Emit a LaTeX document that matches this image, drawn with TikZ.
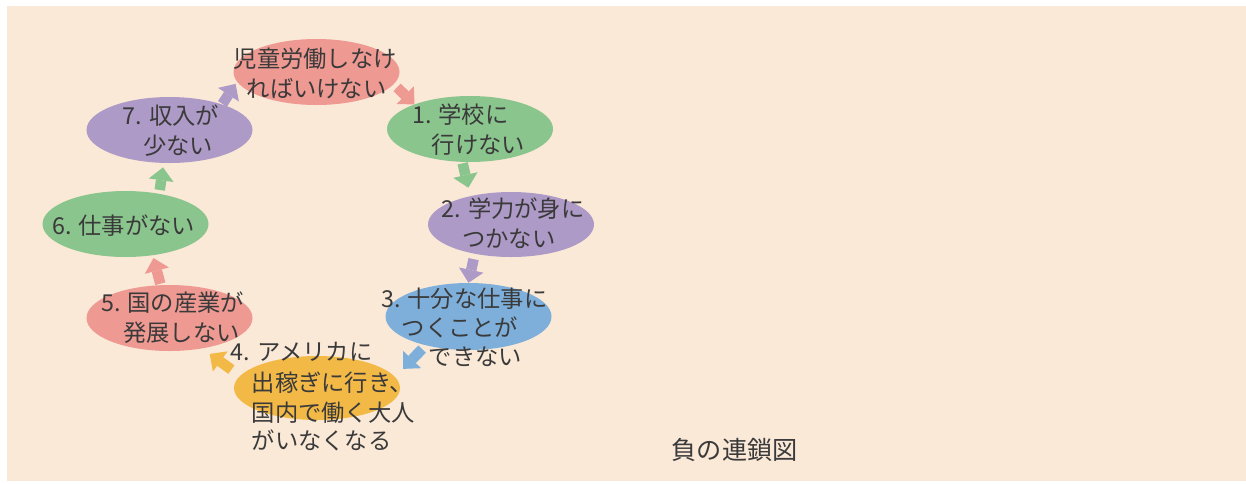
\documentclass[tikz,border=0pt]{standalone}
\usepackage{fontspec}
\setmainfont{Noto Sans CJK JP}
\usetikzlibrary{shapes.geometric,arrows.meta}
\definecolor{bg}{HTML}{FBE9D8}
\definecolor{cred}{HTML}{EE9992}
\definecolor{cgreen}{HTML}{8BC58E}
\definecolor{cpurple}{HTML}{AE9AC7}
\definecolor{cblue}{HTML}{7EAFDB}
\definecolor{corange}{HTML}{F3B946}
\definecolor{txt}{HTML}{3A3A3A}
\tikzset{
  bubble/.style={ellipse, draw=none, fill=#1, minimum width=166pt, minimum height=66pt, inner sep=0pt},
  lbl/.style={anchor=base west, inner sep=0pt, text=txt, font=\fontsize{23.3pt}{28pt}\selectfont},
  flow/.style={draw=#1, line width=10.5pt, -{Triangle[width=25pt,length=13pt,line width=0pt]}}
}
\begin{document}
\begin{tikzpicture}[x=1pt,y=-1pt]
\useasboundingbox (0,0) rectangle (1246,483);
\fill[white] (0,0) rectangle (1246,483);
\fill[bg] (7,6) rectangle (1246,481);
% ellipses
\node[bubble=cred] (E0) at (316.5,72) {};
\node[bubble=cgreen] (E1) at (470,129) {};
\node[bubble=cpurple, minimum height=65pt] (E2) at (511,224.5) {};
\node[bubble=cblue, minimum height=67pt] (E3) at (468.5,316.5) {};
\node[bubble=corange, minimum width=166pt, minimum height=64pt] (E4) at (317,388) {};
\node[bubble=cred] (E5) at (169.5,318) {};
\node[bubble=cgreen] (E6) at (125.5,224) {};
\node[bubble=cpurple] (E7) at (169.5,130) {};
% arrows
\draw[flow=cred, shorten <=4.5pt] (E0.-9.7) -- (E1.156.2);
\draw[flow=cgreen, shorten <=1.3pt, shorten >=8.5pt] (E1.257.4) -- (E2.145.7);
\draw[flow=cpurple, shorten <=5.3pt] (E2.219.3) -- (E3.90.5);
\draw[flow=cblue, shorten <=5.1pt, shorten >=11.3pt] (E3.214.6) -- (E4.8.9);
\draw[flow=corange, shorten <=10.6pt, shorten >=9.2pt] (E4.171.5) -- (E5.-43.3);
\draw[flow=cred, shorten <=1.3pt, shorten >=2.8pt] (E5.105.6) -- (E6.-49.4);
\draw[flow=cgreen, shorten <=3.7pt, shorten >=4.3pt] (E6.42.7) -- (E7.260);
\draw[flow=cpurple, shorten <=0.5pt, shorten >=2.5pt] (E7.26.1) -- (E0.187.2);
% texts
\node[lbl] (t0a) at (233.5,67.5) {児童労働しなけ};
\node[lbl] (t0b) at (246.5,97) {ればいけない};
\node[lbl] (t1a) at (412,123.5) {1. 学校に};
\node[lbl] (t1b) at (431.5,153.5) {行けない};
\node[lbl] (t2a) at (441.5,217.5) {2. 学力が身に};
\node[lbl] (t2b) at (462,247.5) {つかない};
\node[lbl] (t3a) at (381,307) {3. 十分な仕事に};
\node[lbl] (t3b) at (401.5,336) {つくことが};
\node[lbl] (t3c) at (428.5,365) {できない};
\node[lbl] (t4a) at (230.5,360) {4. アメリカに};
\node[lbl] (t4b) at (251.5,391.5) {出稼ぎに行き、};
\node[lbl] (t4c) at (251.5,421.5) {国内で働く大人};
\node[lbl] (t4d) at (251.5,449.5) {がいなくなる};
\node[lbl] (t5a) at (101,311.5) {5. 国の産業が};
\node[lbl] (t5b) at (123,341.5) {発展しない};
\node[lbl] (t6a) at (52,234.5) {6. 仕事がない};
\node[lbl] (t7a) at (122.5,124) {7. 収入が};
\node[lbl] (t7b) at (143,154) {少ない};
\node[anchor=base west, inner sep=0pt, text=txt, font=\fontsize{25.2pt}{30pt}\selectfont] (cap) at (671.5,459) {負の連鎖図};
\end{tikzpicture}
\end{document}
